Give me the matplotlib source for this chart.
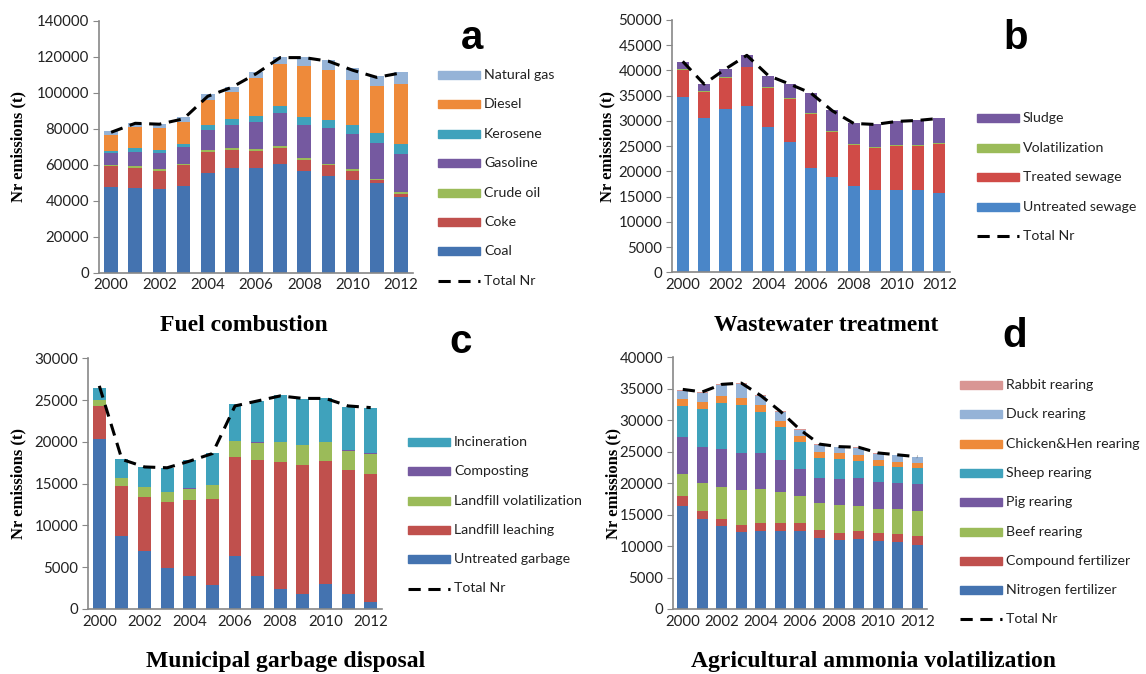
import matplotlib
matplotlib.use('Agg')
from matplotlib import pyplot as plt
from matplotlib.lines import Line2D
from matplotlib.patches import Rectangle
import numpy as np

W, H = 1146, 674

years = [str(y) for y in range(2000, 2013)]

# a: fuel combustion
coal = [47400, 47200, 46700, 48300, 55200, 58000, 58300, 60400, 56500, 53900, 51300, 49800, 42200]
coke = [11900, 11100, 10000, 11300, 12000, 10200, 9500, 9100, 6100, 5700, 5200, 1500, 1700]
crude_oil = [800, 900, 900, 900, 900, 900, 900, 1000, 1000, 1000, 1000, 1000, 1000]
gasoline = [6200, 7800, 8700, 9500, 11200, 13100, 15200, 18400, 18400, 19600, 19400, 19600, 20800]
kerosene = [1500, 2100, 1700, 1500, 2700, 3000, 3100, 3700, 4700, 4800, 5100, 5500, 6000]
diesel = [8700, 11600, 12200, 12400, 13900, 15400, 21200, 23300, 28100, 27400, 25200, 26300, 33300]
natural_gas = [2400, 2300, 2400, 2400, 3200, 2700, 3500, 4100, 4800, 5800, 6300, 5600, 6700]
total_a = [78000, 83000, 82500, 85500, 98000, 103000, 110500, 119500, 119500, 117500, 112500, 108500, 111000]

# b: wastewater treatment
untreated_sewage = [34800, 30600, 32300, 33000, 28800, 25800, 20700, 18900, 17100, 16400, 16400, 16300, 15800]
treated_sewage = [5300, 5100, 6200, 7600, 7800, 8500, 10700, 9000, 8100, 8200, 8600, 8800, 9600]
volatilization = [150, 150, 150, 150, 150, 150, 150, 150, 150, 150, 150, 150, 150]
sludge = [1450, 1450, 1650, 2350, 2250, 2850, 4050, 4150, 4150, 4550, 4750, 4850, 4950]
total_b = [41800, 37300, 40300, 43000, 39000, 37300, 35500, 32000, 29500, 29300, 29900, 30100, 30500]

# c: municipal garbage disposal
untreated_garbage = [20400, 8700, 6900, 4900, 3950, 2830, 6350, 4000, 2350, 1800, 3030, 1750, 880]
landfill_leaching = [3900, 6000, 6500, 7900, 9050, 10370, 11850, 13800, 15250, 15400, 14670, 14850, 15320]
landfill_vol = [700, 1000, 1200, 1200, 1400, 1600, 1900, 2100, 2400, 2400, 2300, 2350, 2400]
composting = [30, 30, 30, 30, 30, 30, 30, 30, 30, 30, 30, 30, 30]
incineration = [1370, 2170, 2370, 2870, 3370, 3870, 4370, 4970, 5570, 5470, 5170, 5220, 5470]
total_c = [26700, 17900, 17000, 16900, 17700, 18600, 24300, 24900, 25500, 25200, 25200, 24300, 24100]

# d: agricultural ammonia volatilization
nitrogen_fert = [16430, 14260, 13140, 12190, 12460, 12350, 12350, 11340, 11020, 11080, 10810, 10650, 10230]
compound_fert = [1540, 1270, 1170, 1220, 1160, 1270, 1270, 1220, 1120, 1270, 1330, 1330, 1380]
beef = [3550, 4450, 5140, 5560, 5410, 4930, 4350, 4290, 4400, 4080, 3810, 3970, 3970]
pig = [5780, 5780, 5990, 5830, 5720, 5090, 4290, 3980, 4130, 4400, 4190, 4140, 4300]
sheep = [4980, 6040, 7370, 7640, 6630, 5250, 4350, 3230, 3130, 2760, 2650, 2490, 2490]
chicken = [1160, 1060, 1060, 1160, 1110, 1000, 840, 960, 950, 900, 900, 850, 840]
duck = [1280, 1540, 1800, 2180, 1380, 1490, 1010, 1110, 960, 1110, 1010, 1000, 910]
rabbit = [80, 80, 80, 80, 80, 80, 80, 80, 80, 80, 80, 80, 80]
total_d = [34900, 34500, 35700, 35900, 33900, 31400, 28500, 26200, 25800, 25700, 24800, 24500, 24200]

BLUE = '#4473B0'
RED = '#C0504D'
GREEN = '#9BBB59'
PURPLE = '#7559A0'
TEAL = '#3FA2BC'
ORANGE = '#EE8A3A'
LBLUE = '#95B3D7'
PINK = '#D99694'

SANS = 'Lato'
SERIF = 'Liberation Serif'
DASH = (0, (4, 2.5))
LEG_FS = 10.2

fig = plt.figure(figsize=(W / 100, H / 100), dpi=100)


def px(x, y):
    return x / W, 1 - y / H


def panel(box, series, names, colors, total, ymax, ystep, title, title_xy,
          letter, letter_xy, leg_x, leg_y, ylab_x):
    x0, y0, x1, y1 = box
    ax = fig.add_axes([x0 / W, 1 - y1 / H, (x1 - x0) / W, (y1 - y0) / H])
    xs = np.arange(len(years))
    bottom = np.zeros(len(years))
    for vals, c in zip(series, colors):
        ax.bar(xs, vals, 0.57, bottom=bottom, color=c, linewidth=0)
        bottom += np.array(vals)
    ax.plot(xs, total, color='black', linewidth=2.2, linestyle=DASH, zorder=5)
    ax.set_xlim(-0.5, len(years) - 0.5)
    ax.set_ylim(0, ymax)
    ax.set_xticks(xs[::2])
    ax.set_xticklabels(years[::2])
    ax.set_yticks(np.arange(0, ymax + 1, ystep))
    ax.tick_params(axis='x', length=0, pad=4)
    ax.tick_params(axis='y', length=4, color='#888888', pad=3)
    for lab in ax.get_xticklabels() + ax.get_yticklabels():
        lab.set_fontfamily(SANS)
        lab.set_fontsize(10.8)
        lab.set_color('#222222')
    for s in ['top', 'right']:
        ax.spines[s].set_visible(False)
    for s in ['left', 'bottom']:
        ax.spines[s].set_color('#888888')
        ax.spines[s].set_linewidth(1.2)

    fig.text(*px(ylab_x, (y0 + y1) / 2), 'Nr emissions (t)', rotation=90,
             ha='center', va='center', family=SERIF, weight='bold', fontsize=12)
    fig.text(*px(*title_xy), title, ha='center', va='center', family=SERIF,
             weight='bold', fontsize=17)
    fig.text(*px(*letter_xy), letter, ha='center', va='center',
             family='Liberation Sans', weight='bold', fontsize=29)

    # legend, top entry first
    for i, (nm, c) in enumerate(zip(names[::-1], colors[::-1])):
        yy = leg_y[0] + i * leg_y[1]
        fig.patches.append(Rectangle(px(leg_x, yy + 4), 42 / W, 8 / H, color=c,
                                     transform=fig.transFigure, figure=fig))
        fig.text(*px(leg_x + 46, yy), nm, ha='left', va='center', family=SANS,
                 fontsize=LEG_FS, color='#222222')
    yy = leg_y[0] + len(names) * leg_y[1]
    fig.add_artist(Line2D([leg_x / W, (leg_x + 42) / W], [1 - yy / H] * 2,
                          color='black', linewidth=2.2, linestyle=DASH))
    fig.text(*px(leg_x + 46, yy), 'Total Nr', ha='left', va='center', family=SANS,
             fontsize=LEG_FS, color='#222222')
    return ax


panel((99, 20.7, 413, 272.7),
      [coal, coke, crude_oil, gasoline, kerosene, diesel, natural_gas],
      ['Coal', 'Coke', 'Crude oil', 'Gasoline', 'Kerosene', 'Diesel', 'Natural gas'],
      [BLUE, RED, GREEN, PURPLE, TEAL, ORANGE, LBLUE],
      total_a, 140000, 20000, 'Fuel combustion', (244, 326), 'a', (472, 38),
      438, (75, 29.4), 18)

panel((672, 20, 950, 272.3),
      [untreated_sewage, treated_sewage, volatilization, sludge],
      ['Untreated sewage', 'Treated sewage', 'Volatilization', 'Sludge'],
      ['#4A86C8', '#D04B47', GREEN, PURPLE],
      total_b, 50000, 5000, 'Wastewater treatment', (826, 326), 'b', (1016, 38),
      977, (118, 29.5), 607)

panel((88, 358.3, 382, 609),
      [untreated_garbage, landfill_leaching, landfill_vol, composting, incineration],
      ['Untreated garbage', 'Landfill leaching', 'Landfill volatilization', 'Composting', 'Incineration'],
      [BLUE, RED, GREEN, PURPLE, TEAL],
      total_c, 30000, 5000, 'Municipal garbage disposal', (286, 661), 'c', (461, 342),
      408, (442, 29.3), 18)

panel((673, 357.3, 927, 609),
      [nitrogen_fert, compound_fert, beef, pig, sheep, chicken, duck, rabbit],
      ['Nitrogen fertilizer', 'Compound fertilizer', 'Beef rearing', 'Pig rearing',
       'Sheep rearing', 'Chicken&Hen rearing', 'Duck rearing', 'Rabbit rearing'],
      [BLUE, RED, GREEN, PURPLE, TEAL, ORANGE, LBLUE, PINK],
      total_d, 40000, 5000, 'Agricultural ammonia volatilization', (873, 661), 'd', (1015, 336),
      960, (385, 29.3), 613)

fig.savefig('out.png', dpi=100)
